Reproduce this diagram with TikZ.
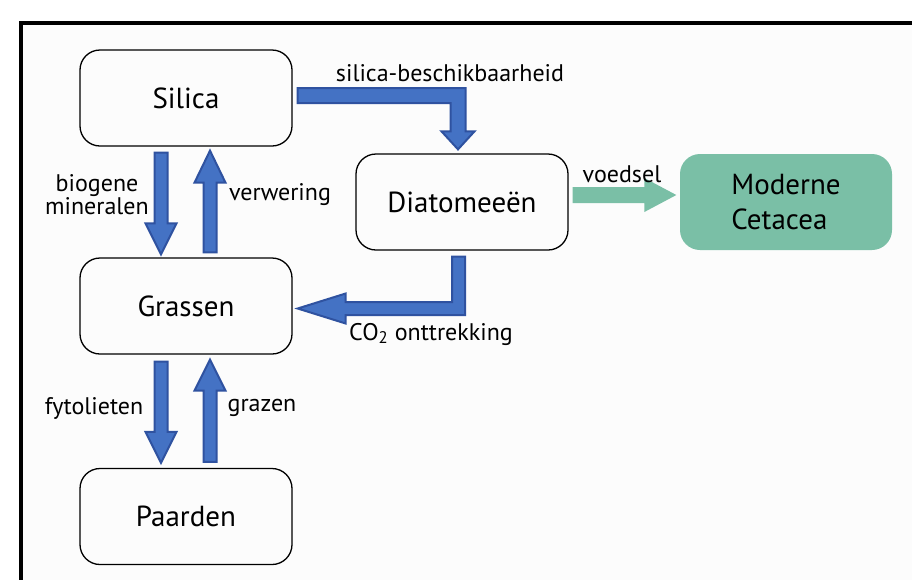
\documentclass[tikz,border=0pt]{standalone}
\usepackage{fontspec}
\setmainfont{PT Sans}
\usetikzlibrary{calc}
\definecolor{bfill}{HTML}{4472C4}
\definecolor{bdraw}{HTML}{2F52A0}
\definecolor{gfill}{HTML}{7ABFA6}
\definecolor{bgc}{HTML}{FCFCFC}
\newcommand\vblock[3]{%
  \draw[barrow] let \p1=(#1), \p2=(#2) in
  ({\x1-6.5pt},\y1) -- ({\x1-6.5pt},{\y2+(#3)*1pt}) -- ({\x1-15.5pt},{\y2+(#3)*1pt}) -- (\x1,\y2)
  -- ({\x1+15.5pt},{\y2+(#3)*1pt}) -- ({\x1+6.5pt},{\y2+(#3)*1pt}) -- ({\x1+6.5pt},\y1) -- cycle;}
\begin{document}
\begin{tikzpicture}[x=1pt,y=-1pt,
  box/.style={draw=black, line width=1.3pt, rounded corners=20pt, minimum width=212pt,
    minimum height=96pt, font=\fontsize{29}{35}\selectfont, inner sep=0pt},
  lbl/.style={font=\fontsize{24}{21}\selectfont, inner sep=0pt, align=center},
  barrow/.style={fill=bfill, draw=bdraw, line width=2pt, line join=miter},
]
\useasboundingbox (0,0) rectangle (912,579);
\fill[white] (0,0) rectangle (912,579);
\draw[line width=3.5pt, fill=bgc] (21,23) rectangle (940,600);

\node[box] (silica) at (186,98) {\raisebox{-2pt}{Silica}};
\node[box] (grassen) at (186,306) {\raisebox{-2pt}{Grassen}};
\node[box] (paarden) at (186,516.5) {\raisebox{-2pt}{Paarden}};
\node[box] (diatom) at (462,202) {\raisebox{-2pt}{Diatomeeën}};
\node[box, draw=none, fill=gfill, align=left] (ceta) at (786,202) {Moderne\\Cetacea\hspace*{6pt}};

% vertical block arrows
\vblock{$(silica.south)+(-25,6)$}{$(grassen.north)+(-25,-3)$}{31}
\vblock{$(grassen.north)+(24,-5)$}{$(silica.south)+(24,4)$}{-32}
\vblock{$(grassen.south)+(-25,7)$}{$(paarden.north)+(-25,-5)$}{31}
\vblock{$(paarden.north)+(24,-6)$}{$(grassen.south)+(24,5)$}{-31}

% silica-beschikbaarheid
\coordinate (sbS) at ($(silica.east)+(5,-2.5)$);
\coordinate (sbT) at ($(diatom.north)+(-4,-4)$);
\draw[barrow] let \p1=(sbS), \p2=(sbT) in
  (\x1,{\y1+7.5pt}) -- ({\x2+7.5pt},{\y1+7.5pt}) -- ({\x2+7.5pt},{\y2+18pt}) -- ({\x2+16.5pt},{\y2+18pt})
  -- (\x2,\y2) -- ({\x2-16.5pt},{\y2+18pt}) -- ({\x2-7.5pt},{\y2+18pt}) -- ({\x2-7.5pt},{\y1-7.5pt})
  -- (\x1,{\y1-7.5pt}) -- cycle;

% CO2 onttrekking
\coordinate (coS) at ($(diatom.south)+(-3.5,6)$);
\coordinate (coT) at ($(grassen.east)+(5,2.5)$);
\draw[barrow] let \p1=(coS), \p2=(coT) in
  ({\x1+6.5pt},\y1) -- ({\x1+6.5pt},{\y2-6.5pt}) -- ({\x2+48pt},{\y2-6.5pt}) -- ({\x2+48pt},{\y2-15pt})
  -- (\x2,\y2) -- ({\x2+48pt},{\y2+15pt}) -- ({\x2+48pt},{\y2+6.5pt}) -- ({\x1-6.5pt},{\y2+6.5pt})
  -- ({\x1-6.5pt},\y1) -- cycle;

% voedsel
\coordinate (vS) at ($(diatom.east)+(4,-7)$);
\coordinate (vT) at ($(ceta.west)+(-3,-7)$);
\fill[gfill] let \p1=(vS), \p2=(vT) in
  (\x1,{\y1+8pt}) -- ({\x2-32pt},{\y1+8pt}) -- ({\x2-32pt},{\y1+17pt}) -- (\x2,\y2)
  -- ({\x2-32pt},{\y1-17pt}) -- ({\x2-32pt},{\y1-8pt}) -- (\x1,{\y1-8pt}) -- cycle;

% labels
\node[lbl] (l1) at (450,73) {silica-beschikbaarheid};
\node[lbl] (l2) at (97,195) {biogene\\mineralen};
\node[lbl] (l3) at (280,195) {verwering};
\node[lbl] (l4) at (94,408) {fytolieten};
\node[lbl] (l5) at (262,408) {grazen};
\node[lbl] (l6) at (622,174) {voedsel};
\node[lbl] (l7) at (431,334) {CO\textsubscript{2} onttrekking};
\end{tikzpicture}
\end{document}
